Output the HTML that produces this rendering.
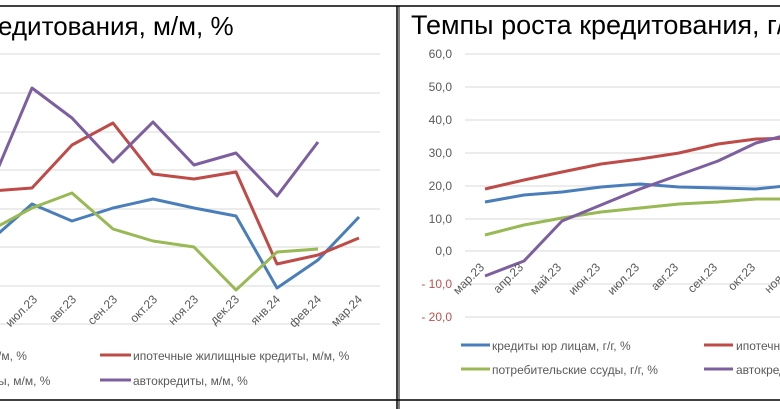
<!DOCTYPE html>
<html><head><meta charset="utf-8"><style>
html,body{margin:0;padding:0;background:#fff;}
svg{display:block;font-family:"Liberation Sans","DejaVu Sans",sans-serif;}
</style></head><body>
<svg width="780" height="409" viewBox="0 0 780 409" xmlns="http://www.w3.org/2000/svg">
<rect width="780" height="409" fill="#fff"/>
<line x1="0" y1="6" x2="780" y2="6" stroke="#000" stroke-width="1.5"/>
<line x1="0" y1="400" x2="780" y2="400" stroke="#000" stroke-width="1.5"/>
<line x1="397" y1="6" x2="397" y2="409" stroke="#000" stroke-width="1.5"/>
<line x1="399" y1="6" x2="399" y2="409" stroke="#000" stroke-width="1"/>

<!-- LEFT PANEL -->
<text x="-2" y="35" font-size="26" fill="#000">едитования, м/м, %</text>
<g stroke="#d9d9d9" stroke-width="1">
<line x1="0" y1="54" x2="380" y2="54"/><line x1="0" y1="93" x2="380" y2="93"/>
<line x1="0" y1="132" x2="380" y2="132"/><line x1="0" y1="170" x2="380" y2="170"/>
<line x1="0" y1="209" x2="380" y2="209"/><line x1="0" y1="247" x2="380" y2="247"/>
<line x1="0" y1="286" x2="380" y2="286"/><line x1="0" y1="324" x2="380" y2="324"/>
</g>
<g fill="none" stroke-width="3" stroke-linejoin="round">
<polyline stroke="#4a7ebb" points="-9,240 32,204 72,221 113,208 153,199 194,208 236,216 277,288 318,260 359,217"/>
<polyline stroke="#be4b48" points="-9,191 32,188 72,145 113,123 153,174 194,179 236,172 277,264 318,255 359,238"/>
<polyline stroke="#98b954" points="-9,230 32,208 72,193 113,229 153,241 194,247 236,290 277,252 318,249"/>
<polyline stroke="#7d5fa0" points="-9,185 32,88 72,118 113,162 153,122 194,165 236,153 277,196 318,142"/>
</g>
<g font-size="12" fill="#595959" text-anchor="end">
<text transform="translate(38,300) rotate(-45)">июл.23</text>
<text transform="translate(77,300) rotate(-45)">авг.23</text>
<text transform="translate(118,300) rotate(-45)">сен.23</text>
<text transform="translate(158,300) rotate(-45)">окт.23</text>
<text transform="translate(199,300) rotate(-45)">ноя.23</text>
<text transform="translate(240,300) rotate(-45)">дек.23</text>
<text transform="translate(281,300) rotate(-45)">янв.24</text>
<text transform="translate(322,300) rotate(-45)">фев.24</text>
<text transform="translate(363,300) rotate(-45)">мар.24</text>
</g>
<g font-size="12" fill="#595959">
<text x="-2" y="360">/м, %</text>
<text x="-2" y="385">ы, м/м, %</text>
<line x1="100" y1="355" x2="131" y2="355" stroke="#be4b48" stroke-width="3"/>
<text x="133" y="360">ипотечные жилищные кредиты, м/м, %</text>
<line x1="100" y1="380" x2="131" y2="380" stroke="#7d5fa0" stroke-width="3"/>
<text x="133" y="385">автокредиты, м/м, %</text>
</g>

<!-- RIGHT PANEL -->
<text x="411" y="34" font-size="27" fill="#000">Темпы роста кредитования, г/г, %</text>
<g stroke="#d9d9d9" stroke-width="1">
<line x1="465" y1="54" x2="780" y2="54"/><line x1="465" y1="87" x2="780" y2="87"/>
<line x1="465" y1="120" x2="780" y2="120"/><line x1="465" y1="153" x2="780" y2="153"/>
<line x1="465" y1="186" x2="780" y2="186"/><line x1="465" y1="219" x2="780" y2="219"/>
<line x1="465" y1="251" x2="780" y2="251"/><line x1="465" y1="284" x2="780" y2="284"/>
<line x1="465" y1="317" x2="780" y2="317"/>
</g>
<g font-size="12" fill="#595959" text-anchor="end">
<text x="452" y="58">60,0</text><text x="452" y="91">50,0</text>
<text x="452" y="124">40,0</text><text x="452" y="157">30,0</text>
<text x="452" y="190">20,0</text><text x="452" y="223">10,0</text>
<text x="452" y="255">0,0</text>
<text x="452" y="288" fill="#c0504d">- 10,0</text>
<text x="452" y="321" fill="#c0504d">- 20,0</text>
</g>
<g fill="none" stroke-width="3" stroke-linejoin="round">
<polyline stroke="#be4b48" points="485,189 524,180 562,172 601,164 640,159 679,153 718,144 756,139 795,138"/>
<polyline stroke="#4a7ebb" points="485,202 524,195 562,192 601,187 640,184 679,187 718,188 756,189 795,185"/>
<polyline stroke="#98b954" points="485,235 524,225 562,218 601,212 640,208 679,204 718,202 756,199 795,199"/>
<polyline stroke="#7d5fa0" points="485,276 524,261 562,221 601,205 640,189 679,175 718,161 756,143 795,133"/>
</g>
<g font-size="12" fill="#595959">
<text transform="translate(485,268) rotate(-45)" text-anchor="end">мар.23</text>
<text transform="translate(524,268) rotate(-45)" text-anchor="end">апр.23</text>
<text transform="translate(562,268) rotate(-45)" text-anchor="end">май.23</text>
<text transform="translate(601,268) rotate(-45)" text-anchor="end">июн.23</text>
<text transform="translate(640,268) rotate(-45)" text-anchor="end">июл.23</text>
<text transform="translate(679,268) rotate(-45)" text-anchor="end">авг.23</text>
<text transform="translate(718,268) rotate(-45)" text-anchor="end">сен.23</text>
<text transform="translate(756,268) rotate(-45)" text-anchor="end">окт.23</text>
<text transform="translate(795,268) rotate(-45)" text-anchor="end">ноя.23</text>
</g>
<g font-size="12" fill="#595959">
<line x1="461" y1="345" x2="490" y2="345" stroke="#4a7ebb" stroke-width="3"/>
<text x="492" y="350">кредиты юр лицам, г/г, %</text>
<line x1="704" y1="345" x2="733" y2="345" stroke="#be4b48" stroke-width="3"/>
<text x="736" y="350">ипотечные жилищные кредиты, г/г, %</text>
<line x1="461" y1="369" x2="490" y2="369" stroke="#98b954" stroke-width="3"/>
<text x="492" y="374">потребительские ссуды, г/г, %</text>
<line x1="704" y1="369" x2="733" y2="369" stroke="#7d5fa0" stroke-width="3"/>
<text x="736" y="374">автокредиты, г/г, %</text>
</g>
</svg>
</body></html>
